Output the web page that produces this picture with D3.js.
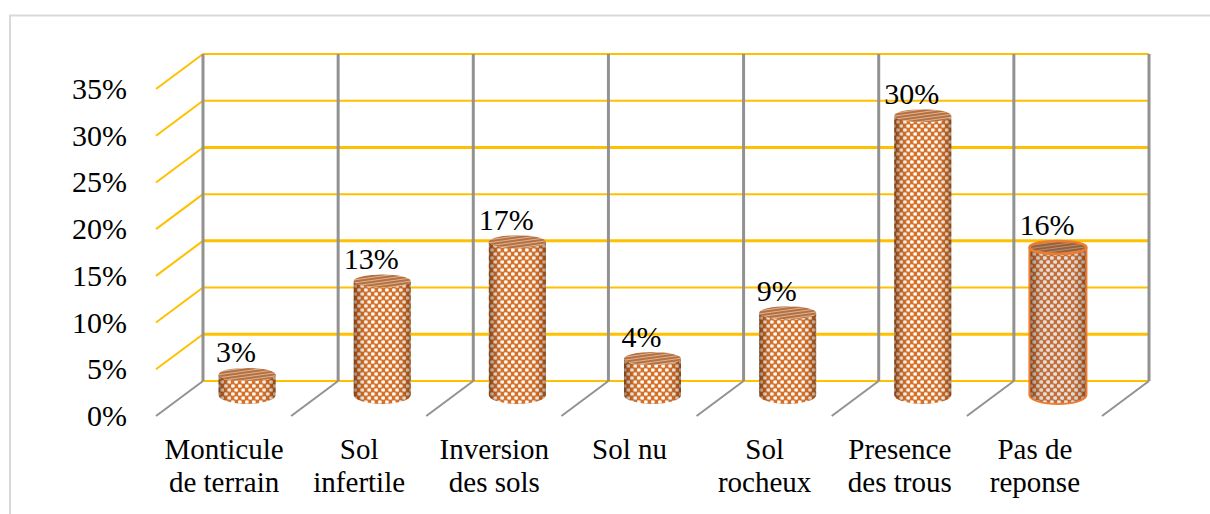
<!DOCTYPE html>
<html><head><meta charset="utf-8">
<script src="https://cdn.jsdelivr.net/npm/d3@7/dist/d3.min.js"></script>
<style>html,body{margin:0;padding:0;background:#fff}svg{display:block}text{font-family:"Liberation Serif",serif;fill:#000}</style>
</head><body><svg id="c" width="1210" height="514"></svg>
<script>
const categories = [["Monticule","de terrain"],["Sol","infertile"],["Inversion","des sols"],["Sol nu"],["Sol","rocheux"],["Presence","des trous"],["Pas de","reponse"]];
const barHeights = [2.2,12.2,16.4,3.9,8.8,29.9,15.8];
const valueLabels = ["3%","13%","17%","4%","9%","30%","16%"];
const ticks = [0,5,10,15,20,25,30,35];
const heavyTicks = [5,15,25];

const svg = d3.select("#c");
const depthX = 47, depthY = 34;
const x = d3.scaleBand().domain(d3.range(categories.length)).range([203,1149]).padding(0);
const y = d3.scaleLinear().domain([0,35]).range([381,54]);
const baseY = 395, rx = 28.5, ry = 6.5;

const defs = svg.append("defs");
function weave(id, base, halo, dot){
  const p = defs.append("pattern").attr("id",id).attr("patternUnits","userSpaceOnUse").attr("width",7).attr("height",8);
  p.append("rect").attr("width",7).attr("height",8).attr("fill",base);
  [[1.75,2],[5.25,6]].forEach(d=>{
    p.append("ellipse").attr("cx",d[0]).attr("cy",d[1]).attr("rx",2.4).attr("ry",1.9).attr("fill",halo);
    p.append("ellipse").attr("cx",d[0]).attr("cy",d[1]).attr("rx",1.6).attr("ry",1.2).attr("fill",dot);
  });
}
weave("weave","#d2691f","#f0c4a0","#ffffff");
weave("weaveGrey","#c4652a","#d8c4b6","#e2e2e2");
function stripes(id, base, line){
  const p = defs.append("pattern").attr("id",id).attr("patternUnits","userSpaceOnUse").attr("width",6).attr("height",3).attr("patternTransform","rotate(-8)");
  p.append("rect").attr("width",6).attr("height",3).attr("fill",base);
  p.append("rect").attr("y",2).attr("width",6).attr("height",1).attr("fill",line);
}
stripes("weaveTop","#b5703f","#dcb294");
stripes("weaveTopDark","#95603c","#b98d6e");
const grad = defs.append("linearGradient").attr("id","shade");
[[0,"#4a2208",.6],[.1,"#5a2a08",.25],[.3,"#fff",.05],[.7,"#fff",.05],[.9,"#5a2a08",.2],[1,"#4a2208",.5]].forEach(s=>grad.append("stop").attr("offset",s[0]).attr("stop-color",s[1]).attr("stop-opacity",s[2]));

svg.append("rect").attr("x",10).attr("y",15.5).attr("width",1300).attr("height",600).attr("fill","#fff").attr("stroke","#d9d9d9").attr("stroke-width",2);

const g = svg.append("g");
ticks.forEach(t=>{
  g.append("line").attr("x1",203).attr("x2",1149).attr("y1",y(t)).attr("y2",y(t)).attr("stroke","#ffc000").attr("stroke-width",heavyTicks.includes(t)?3:2);
  if(t>0) g.append("line").attr("x1",203-depthX).attr("y1",y(t)+depthY+1).attr("x2",203).attr("y2",y(t)).attr("stroke","#ffc000").attr("stroke-width",2);
});
d3.range(categories.length+1).forEach(i=>{
  const px = i<categories.length ? x(i) : 1149;
  g.append("line").attr("x1",px).attr("x2",px).attr("y1",y(35)).attr("y2",y(0)).attr("stroke","#929292").attr("stroke-width",3);
  g.append("line").attr("x1",px-depthX).attr("y1",y(0)+depthY+1).attr("x2",px).attr("y2",y(0)).attr("stroke","#929292").attr("stroke-width",2);
});

ticks.forEach(t=>svg.append("text").attr("x",127).attr("y",y(t)+depthY+11).attr("text-anchor","end").attr("font-size",30).text(t+"%"));

categories.forEach((c,i)=>{
  const cx = x(i)+x.bandwidth()/2 - 23.5;
  const topY = baseY - (y(0)-y(barHeights[i]));
  const last = i===6;
  const body = `M${cx-rx},${topY} L${cx-rx},${baseY} A${rx},${ry+2.5} 0 0 0 ${cx+rx},${baseY} L${cx+rx},${topY} A${rx},${ry} 0 0 1 ${cx-rx},${topY} Z`;
  svg.append("path").attr("d",body).attr("fill",last?"url(#weaveGrey)":"url(#weave)");
  svg.append("path").attr("d",body).attr("fill","url(#shade)");
  const top = svg.append("ellipse").attr("cx",cx).attr("cy",topY).attr("rx",rx).attr("ry",ry).attr("fill",last?"url(#weaveTopDark)":"url(#weaveTop)");
  if(last){
    svg.append("path").attr("d",body).attr("fill","none").attr("stroke","#ed7d31").attr("stroke-width",2);
    top.attr("stroke","#ed7d31").attr("stroke-width",2.5);
  }
  svg.append("text").attr("x",cx-11).attr("y",topY-12).attr("text-anchor","middle").attr("font-size",30).text(valueLabels[i]);
  c.forEach((line,k)=>svg.append("text").attr("x",cx-23).attr("y",459+k*33).attr("text-anchor","middle").attr("font-size",29).text(line));
});
</script></body></html>
